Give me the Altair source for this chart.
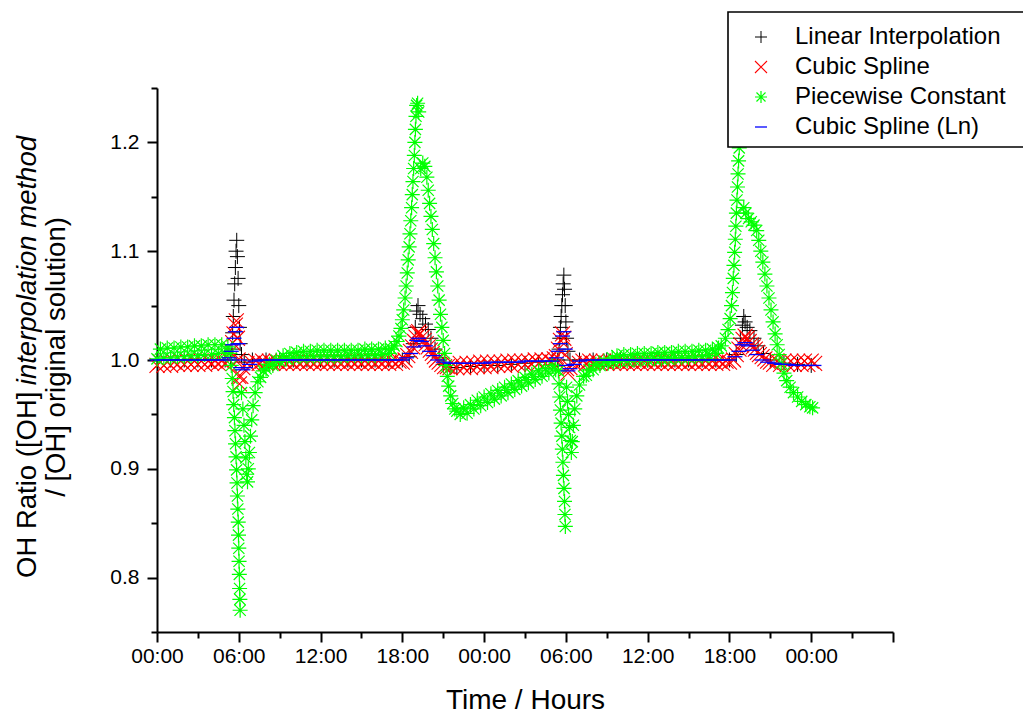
import json
import altair as alt
import pandas as pd

FONT = "Liberation Sans"

SERIES = ["Linear Interpolation", "Cubic Spline", "Piecewise Constant", "Cubic Spline (Ln)"]
COLORS = ["#000000", "#ff0000", "#00ff00", "#0000ff"]

# (hour, OH ratio)
LINEAR = [
    (0, 1.0), (1, 1.0), (2, 1.0), (3, 1.0), (4, 1.0), (5, 1.0),
    (5.4, 1.0), (5.5, 1.01), (5.55, 1.025), (5.6, 1.04), (5.65, 1.055), (5.7, 1.07),
    (5.75, 1.085), (5.8, 1.1), (5.85, 1.11), (5.9, 1.095), (5.95, 1.075), (6.0, 1.05),
    (6.05, 1.03), (6.1, 1.015), (6.2, 1.005), (6.4, 0.998),
    (7, 1.0), (8, 1.0), (9, 1.0), (10, 1.0), (11, 1.0), (12, 1.0), (13, 1.0), (14, 1.0),
    (15, 1.0), (16, 1.0), (17, 1.0), (18, 1.0),
    (18.5, 1.003), (18.8, 1.015), (18.95, 1.03), (19.05, 1.045), (19.15, 1.05), (19.3, 1.042),
    (19.5, 1.038), (19.7, 1.033), (19.9, 1.028), (20.1, 1.02), (20.4, 1.01), (20.7, 1.002),
    (21.0, 0.996), (21.5, 0.993), (22, 0.993),
    (23, 0.994), (24, 0.995), (25, 0.995), (26, 0.996), (27, 0.997), (28, 0.998), (29, 0.999),
    (29.4, 1.0), (29.5, 1.01), (29.55, 1.02), (29.6, 1.03), (29.65, 1.04), (29.7, 1.05),
    (29.75, 1.06), (29.8, 1.07), (29.85, 1.078), (29.9, 1.065), (29.95, 1.05), (30.0, 1.035),
    (30.05, 1.02), (30.15, 1.008), (30.3, 1.0),
    (31, 1.0), (32, 1.0), (33, 1.0), (34, 1.0), (35, 1.0), (36, 1.0), (37, 1.0), (38, 1.0),
    (39, 1.0), (40, 1.0), (41, 1.0), (42, 1.0),
    (42.5, 1.005), (42.8, 1.02), (42.95, 1.032), (43.05, 1.04), (43.15, 1.035), (43.3, 1.03),
    (43.5, 1.027), (43.8, 1.02), (44.1, 1.013), (44.5, 1.006), (45, 1.0), (46, 0.997),
    (47, 0.996), (48, 0.995),
]

CUBIC = [
    (0, 0.995), (0.25, 0.998), (0.5, 0.995), (0.75, 0.998), (1, 0.995), (1.25, 0.998),
    (1.5, 0.996), (1.75, 0.999), (2, 0.996), (2.25, 0.999), (2.5, 0.996), (2.75, 0.999),
    (3, 0.996), (3.25, 0.999), (3.5, 0.996), (3.75, 0.999), (4, 0.997), (4.25, 0.999),
    (4.5, 0.997), (4.75, 0.999), (5, 0.997),
    (5.3, 1.0), (5.45, 1.008), (5.55, 1.016), (5.65, 1.024), (5.75, 1.032), (5.82, 1.036),
    (5.9, 1.02), (5.95, 1.0), (6.0, 0.985), (6.05, 0.978), (6.15, 0.985), (6.3, 0.993), (6.6, 0.997),
    (7, 0.997), (7.25, 0.999), (7.5, 0.997), (7.75, 0.999), (8, 0.997), (8.25, 0.999),
    (8.5, 0.997), (8.75, 0.999), (9, 0.997), (9.25, 0.999), (9.5, 0.997), (9.75, 0.999),
    (10, 0.997), (10.25, 0.999), (10.5, 0.997), (10.75, 0.999), (11, 0.997), (11.25, 0.999),
    (11.5, 0.997), (11.75, 0.999), (12, 0.997), (12.25, 0.999), (12.5, 0.997), (12.75, 0.999),
    (13, 0.997), (13.25, 0.999), (13.5, 0.997), (13.75, 0.999), (14, 0.997), (14.25, 0.999),
    (14.5, 0.997), (14.75, 0.999), (15, 0.997), (15.25, 0.999), (15.5, 0.997), (15.75, 0.999),
    (16, 0.997), (16.25, 0.999), (16.5, 0.997), (16.75, 0.999), (17, 0.997), (17.25, 0.999),
    (17.5, 0.997), (17.75, 0.999), (18, 0.998),
    (18.2, 1.0), (18.4, 1.004), (18.6, 1.008), (18.75, 1.012), (18.9, 1.017), (19.0, 1.021),
    (19.1, 1.025), (19.2, 1.026), (19.3, 1.024), (19.45, 1.021), (19.6, 1.018), (19.75, 1.015),
    (19.9, 1.012), (20.05, 1.009), (20.2, 1.006), (20.35, 1.003), (20.5, 1.0), (20.7, 0.998),
    (20.9, 0.996), (21.1, 0.994), (21.3, 0.994), (21.5, 0.993), (21.75, 0.996),
    (22, 0.993), (22.25, 0.997), (22.5, 0.993), (22.75, 0.997), (23, 0.993), (23.25, 0.997),
    (23.5, 0.994), (23.75, 0.998), (24, 0.994), (24.25, 0.998), (24.5, 0.994), (24.75, 0.998),
    (25, 0.995), (25.25, 0.998), (25.5, 0.995), (25.75, 0.999), (26, 0.995), (26.25, 0.999),
    (26.5, 0.996), (26.75, 0.999), (27, 0.996), (27.25, 0.999), (27.5, 0.996), (27.75, 1.0),
    (28, 0.997), (28.25, 1.0), (28.5, 0.997), (28.75, 1.0), (29, 0.998), (29.15, 1.001),
    (29.3, 1.003), (29.45, 1.01), (29.6, 1.018), (29.75, 1.024), (29.85, 1.02), (29.95, 1.005),
    (30.05, 0.992), (30.15, 0.988), (30.3, 0.993), (30.6, 0.997),
    (31, 0.997), (31.25, 0.999), (31.5, 0.997), (31.75, 0.999), (32, 0.997), (32.25, 0.999),
    (32.5, 0.997), (32.75, 0.999), (33, 0.997), (33.25, 0.999), (33.5, 0.997), (33.75, 0.999),
    (34, 0.997), (34.25, 0.999), (34.5, 0.997), (34.75, 0.999), (35, 0.997), (35.25, 0.999),
    (35.5, 0.997), (35.75, 0.999), (36, 0.997), (36.25, 0.999), (36.5, 0.997), (36.75, 0.999),
    (37, 0.997), (37.25, 0.999), (37.5, 0.997), (37.75, 0.999), (38, 0.997), (38.25, 0.999),
    (38.5, 0.997), (38.75, 0.999), (39, 0.997), (39.25, 0.999), (39.5, 0.997), (39.75, 0.999),
    (40, 0.997), (40.25, 0.999), (40.5, 0.997), (40.75, 0.999), (41, 0.997), (41.25, 0.999),
    (41.5, 0.997), (41.75, 0.999), (42, 0.998),
    (42.3, 1.0), (42.5, 1.005), (42.7, 1.01), (42.85, 1.014), (43.0, 1.019), (43.15, 1.022),
    (43.3, 1.02), (43.45, 1.017), (43.6, 1.014), (43.75, 1.012), (43.9, 1.01), (44.05, 1.007),
    (44.2, 1.005), (44.4, 1.003), (44.6, 1.001), (44.8, 0.999), (45.0, 0.998),
    (45.25, 0.996), (45.5, 0.999), (45.75, 0.996), (46, 0.999), (46.25, 0.996), (46.5, 0.999),
    (46.75, 0.996), (47, 0.999), (47.25, 0.996), (47.5, 0.999), (47.75, 0.996), (48, 0.999),
    (48.25, 0.997),
]

PIECEWISE = [
    (0, 1.001), (0.25, 1.01), (0.5, 1.002), (0.75, 1.011), (1, 1.002), (1.25, 1.011),
    (1.5, 1.003), (1.75, 1.012), (2, 1.003), (2.25, 1.012), (2.5, 1.004), (2.75, 1.013),
    (3, 1.004), (3.25, 1.013), (3.5, 1.005), (3.75, 1.014), (4, 1.005), (4.25, 1.014),
    (4.5, 1.006), (4.75, 1.014), (5, 1.006), (5.2, 1.012), (5.35, 1.006),
    (5.45, 0.995), (5.52, 0.983), (5.58, 0.971), (5.63, 0.959), (5.68, 0.947), (5.72, 0.935),
    (5.76, 0.923), (5.8, 0.911), (5.84, 0.899), (5.87, 0.887), (5.9, 0.875), (5.93, 0.863),
    (5.96, 0.851), (5.98, 0.839), (6.0, 0.827), (6.02, 0.815), (6.04, 0.803), (6.06, 0.79),
    (6.08, 0.78), (6.1, 0.77),
    (6.2, 0.97), (6.3, 0.955), (6.38, 0.94), (6.45, 0.925), (6.52, 0.91), (6.58, 0.895),
    (6.64, 0.888), (6.7, 0.9), (6.78, 0.915), (6.86, 0.93), (6.95, 0.945), (7.05, 0.958),
    (7.2, 0.97), (7.4, 0.98), (7.6, 0.984), (7.8, 0.99), (8.0, 0.992), (8.25, 0.996),
    (8.5, 0.995), (8.75, 1.0), (9.0, 0.999), (9.25, 1.004), (9.5, 1.001), (9.75, 1.006),
    (10.0, 1.002), (10.25, 1.007), (10.5, 1.003),
    (10.75, 1.008), (11, 1.003), (11.25, 1.008), (11.5, 1.003), (11.75, 1.009), (12, 1.003),
    (12.25, 1.009), (12.5, 1.003), (12.75, 1.009), (13, 1.003), (13.25, 1.009), (13.5, 1.003),
    (13.75, 1.009), (14, 1.004), (14.25, 1.009), (14.5, 1.004), (14.75, 1.009), (15, 1.004),
    (15.25, 1.01), (15.5, 1.004), (15.75, 1.01), (16, 1.004), (16.25, 1.01), (16.5, 1.005),
    (16.75, 1.011), (17, 1.006), (17.2, 1.01),
    (17.4, 1.013), (17.6, 1.017), (17.75, 1.022), (17.9, 1.029), (18.0, 1.037), (18.1, 1.046),
    (18.2, 1.057), (18.28, 1.068), (18.36, 1.08), (18.43, 1.092), (18.5, 1.104), (18.56, 1.116),
    (18.62, 1.128), (18.68, 1.14), (18.73, 1.152), (18.78, 1.164), (18.83, 1.176), (18.88, 1.188),
    (18.92, 1.2), (18.96, 1.212), (19.0, 1.224), (19.05, 1.234), (19.12, 1.236), (19.2, 1.228),
    (19.35, 1.176), (19.5, 1.181), (19.65, 1.178), (19.8, 1.168), (19.9, 1.156), (20.0, 1.144),
    (20.1, 1.132), (20.2, 1.12), (20.3, 1.107), (20.4, 1.094), (20.5, 1.081), (20.6, 1.068),
    (20.7, 1.055), (20.8, 1.042), (20.9, 1.03), (21.0, 1.018), (21.1, 1.006), (21.2, 0.995),
    (21.3, 0.985), (21.4, 0.976), (21.55, 0.967), (21.7, 0.96), (21.85, 0.955), (22.0, 0.953),
    (22.25, 0.95), (22.5, 0.956), (22.75, 0.951), (23, 0.959), (23.25, 0.955), (23.5, 0.963),
    (23.75, 0.958), (24, 0.966), (24.25, 0.961), (24.5, 0.969), (24.75, 0.964), (25, 0.972),
    (25.25, 0.967), (25.5, 0.975), (25.75, 0.97), (26, 0.978), (26.25, 0.973), (26.5, 0.981),
    (26.75, 0.976), (27, 0.984), (27.25, 0.979), (27.5, 0.987), (27.75, 0.982), (28, 0.99),
    (28.25, 0.985), (28.5, 0.992), (28.75, 0.988), (29, 0.995), (29.25, 0.991),
    (29.45, 0.99), (29.5, 0.978), (29.55, 0.966), (29.6, 0.954), (29.65, 0.942), (29.7, 0.93),
    (29.74, 0.918), (29.78, 0.906), (29.82, 0.894), (29.86, 0.882), (29.9, 0.87), (29.93, 0.858),
    (29.96, 0.847),
    (30.05, 0.975), (30.12, 0.962), (30.2, 0.95), (30.27, 0.938), (30.33, 0.926), (30.4, 0.915),
    (30.47, 0.925), (30.55, 0.94), (30.65, 0.955), (30.8, 0.967), (31.0, 0.977), (31.3, 0.985),
    (31.5, 0.986), (31.7, 0.991), (32.0, 0.991), (32.2, 0.996), (32.5, 0.995), (32.8, 0.999),
    (33.1, 0.997), (33.4, 1.002),
    (33.5, 0.998), (33.75, 1.004), (34, 0.999), (34.25, 1.005), (34.5, 0.999), (34.75, 1.005),
    (35, 1.0), (35.25, 1.006), (35.5, 1.0), (35.75, 1.006), (36, 1.0), (36.25, 1.006),
    (36.5, 1.001), (36.75, 1.007), (37, 1.001), (37.25, 1.007), (37.5, 1.001), (37.75, 1.007),
    (38, 1.002), (38.25, 1.008), (38.5, 1.002), (38.75, 1.008), (39, 1.002), (39.25, 1.008),
    (39.5, 1.003), (39.75, 1.009), (40, 1.003), (40.25, 1.009), (40.5, 1.004), (40.75, 1.01),
    (41, 1.006), (41.2, 1.011),
    (41.4, 1.013), (41.7, 1.02), (41.9, 1.028), (42.05, 1.038), (42.15, 1.05), (42.22, 1.062),
    (42.28, 1.075), (42.33, 1.087), (42.38, 1.099), (42.43, 1.111), (42.47, 1.123), (42.51, 1.135),
    (42.55, 1.147), (42.59, 1.159), (42.63, 1.171), (42.67, 1.183), (42.72, 1.195), (42.78, 1.207),
    (42.85, 1.215), (42.95, 1.21),
    (43.05, 1.14), (43.2, 1.135), (43.4, 1.13), (43.6, 1.127), (43.8, 1.124), (44.0, 1.119),
    (44.15, 1.11), (44.3, 1.1), (44.45, 1.09), (44.6, 1.079), (44.75, 1.068), (44.9, 1.057),
    (45.05, 1.046), (45.2, 1.035), (45.35, 1.024), (45.5, 1.014), (45.65, 1.005), (45.8, 0.997),
    (46.0, 0.988), (46.2, 0.981), (46.45, 0.975), (46.7, 0.97), (47.0, 0.966), (47.3, 0.962),
    (47.6, 0.959), (47.9, 0.957), (48.1, 0.956),
]

CUBIC_LN = [
    (0, 1.0), (0.5, 1.0), (1, 1.0), (1.5, 1.0), (2, 1.0), (2.5, 1.0), (3, 1.0), (3.5, 1.0),
    (4, 1.0), (4.5, 1.0), (5, 1.0),
    (5.3, 1.002), (5.45, 1.008), (5.55, 1.014), (5.65, 1.02), (5.75, 1.026), (5.85, 1.03),
    (5.95, 1.015), (6.05, 1.0), (6.15, 0.993), (6.3, 0.991), (6.5, 0.993), (6.8, 0.996),
    (7.2, 0.999), (7.6, 1.0),
    (8, 1.0), (8.5, 1.0), (9, 1.0), (9.5, 1.0), (10, 1.0), (10.5, 1.0), (11, 1.0), (11.5, 1.0),
    (12, 1.0), (12.5, 1.0), (13, 1.0), (13.5, 1.0), (14, 1.0), (14.5, 1.0), (15, 1.0),
    (15.5, 1.0), (16, 1.0), (16.5, 1.0), (17, 1.0), (17.5, 1.0), (18, 1.0),
    (18.3, 1.002), (18.6, 1.006), (18.85, 1.012), (19.05, 1.018), (19.2, 1.02), (19.4, 1.017),
    (19.7, 1.013), (20.0, 1.008), (20.3, 1.004), (20.6, 1.0), (21.0, 0.998), (21.5, 0.997),
    (22, 0.997), (22.5, 0.997), (23, 0.997), (23.5, 0.997), (24, 0.997), (24.5, 0.998),
    (25, 0.998), (25.5, 0.998), (26, 0.998), (26.5, 0.998), (27, 0.999), (27.5, 0.999),
    (28, 0.999), (28.5, 0.999), (29, 0.999),
    (29.3, 1.002), (29.45, 1.008), (29.6, 1.015), (29.75, 1.022), (29.85, 1.026), (29.95, 1.01),
    (30.05, 0.995), (30.15, 0.99), (30.3, 0.992), (30.6, 0.996), (31.0, 0.999),
    (31.5, 1.0), (32, 1.0), (32.5, 1.0), (33, 1.0), (33.5, 1.0), (34, 1.0), (34.5, 1.0),
    (35, 1.0), (35.5, 1.0), (36, 1.0), (36.5, 1.0), (37, 1.0), (37.5, 1.0), (38, 1.0),
    (38.5, 1.0), (39, 1.0), (39.5, 1.0), (40, 1.0), (40.5, 1.0), (41, 1.0), (41.5, 1.0), (42, 1.0),
    (42.4, 1.003), (42.7, 1.008), (42.95, 1.014), (43.15, 1.016), (43.4, 1.013), (43.7, 1.009),
    (44.0, 1.005), (44.4, 1.0), (44.8, 0.998), (45.3, 0.997), (45.8, 0.996), (46.3, 0.996),
    (46.8, 0.995), (47.3, 0.995), (47.8, 0.995), (48.2, 0.995),
]

X_TICKS = [0, 3, 6, 9, 12, 15, 18, 21, 24, 27, 30, 33, 36, 39, 42, 45, 48, 51, 54]
X_LABELS = ["00:00", "06:00", "12:00", "18:00", "00:00", "06:00", "12:00", "18:00", "00:00"]
Y_TICKS = [0.75, 0.8, 0.85, 0.9, 0.95, 1.0, 1.05, 1.1, 1.15, 1.2, 1.25]

Y_TITLE_A = "OH Ratio ([OH]"
Y_TITLE_B = "interpolation method"
Y_TITLE_C = "/ [OH] original solution)"
X_TITLE = "Time / Hours"

PLUS = "M-1,0L1,0M0,-1L0,1"
CROSS = "M-1,-1L1,1M-1,1L1,-1"
STAR = "M-1,0L1,0M0,-1L0,1M-0.75,-0.75L0.75,0.75M-0.75,0.75L0.75,-0.75"
DASH = "M-1,0L1,0"
SHAPES = [PLUS, CROSS, STAR, DASH]
STROKES = [1.0, 1.3, 1.2, 2.0]

rows = []
idx = 0
for name, pts in zip(SERIES, [LINEAR, CUBIC, PIECEWISE, CUBIC_LN]):
    for h, v in pts:
        rows.append({"hour": h, "ratio": v, "series": name, "idx": idx})
        idx += 1
df = pd.DataFrame(rows)

x_label_expr = ("datum.value % 6 === 0 && datum.value <= 48 ? "
                + json.dumps(X_LABELS) + "[datum.value / 6] : ''")
y_label_expr = "round(datum.value * 100) % 10 === 0 ? format(datum.value, '.1f') : ''"

legend = alt.Legend(
    title=None, orient="none", legendX=571, legendY=-73, direction="vertical",
    labelFont=FONT, labelFontSize=24, labelColor="black", labelLimit=500,
    symbolSize=144, symbolStrokeWidth=1.3, symbolOffset=11, labelOffset=22,
    padding=10, rowPadding=6,
)

points = alt.Chart(df).mark_point(filled=False, size=225, opacity=1).encode(
    x=alt.X("hour:Q", scale=alt.Scale(domain=[0, 54], nice=False, zero=False),
            axis=alt.Axis(values=X_TICKS, labelExpr=x_label_expr, title=X_TITLE,
                          titleFont=FONT, titleFontSize=28, titleFontWeight="normal",
                          titleColor="black", titlePadding=20,
                          labelFont=FONT, labelFontSize=21, labelColor="black",
                          labelPadding=3, labelOverlap=False, labelFlush=False,
                          tickSize={"condition": {"test": "datum.value % 6 === 0", "value": 10}, "value": 6},
                          tickWidth=2, tickColor="black", domainColor="black", domainWidth=2,
                          grid=False)),
    y=alt.Y("ratio:Q", scale=alt.Scale(domain=[0.75, 1.25], nice=False, zero=False),
            axis=alt.Axis(values=Y_TICKS, labelExpr=y_label_expr, title=None,
                          labelFont=FONT, labelFontSize=21, labelColor="black",
                          labelPadding=8, labelOverlap=False, labelFlush=False,
                          tickSize={"condition": {"test": "round(datum.value * 100) % 10 === 0", "value": 10}, "value": 6},
                          tickWidth=2, tickColor="black", domainColor="black", domainWidth=2,
                          grid=False)),
    color=alt.Color("series:N", scale=alt.Scale(domain=SERIES, range=COLORS), legend=legend),
    shape=alt.Shape("series:N", scale=alt.Scale(domain=SERIES, range=SHAPES), legend=legend),
    strokeWidth=alt.StrokeWidth("series:N", scale=alt.Scale(domain=SERIES, range=STROKES), legend=None),
    order=alt.Order("idx:Q"),
)

# legend frame (extends past the right edge, as in the original figure)
legend_box = alt.Chart(pd.DataFrame({"k": [0]})).mark_rect(
    fill="white", stroke="black", strokeWidth=1.6,
).encode(x=alt.value(571), x2=alt.value(905), y=alt.value(-76), y2=alt.value(59))

def ytext(txt, x, y, align, style):
    return alt.Chart(pd.DataFrame({"t": [txt]})).mark_text(
        angle=270, align=align, baseline="middle", font=FONT, fontSize=27.5,
        fontStyle=style, color="black",
    ).encode(text="t:N", x=alt.value(x), y=alt.value(y))

chart = alt.layer(
    points,
    legend_box,
    ytext(Y_TITLE_A, -129, 490, "left", "normal"),
    ytext(Y_TITLE_B, -129, 48, "right", "italic"),
    ytext(Y_TITLE_C, -100, 269, "center", "normal"),
).properties(
    width=736, height=544,
    padding={"left": 157, "top": 88, "right": 130, "bottom": 83},
    autosize=alt.AutoSizeParams(type="none"),
).configure_view(stroke=None)

chart.save("out.html", embed_options={"renderer": "svg", "actions": False})
